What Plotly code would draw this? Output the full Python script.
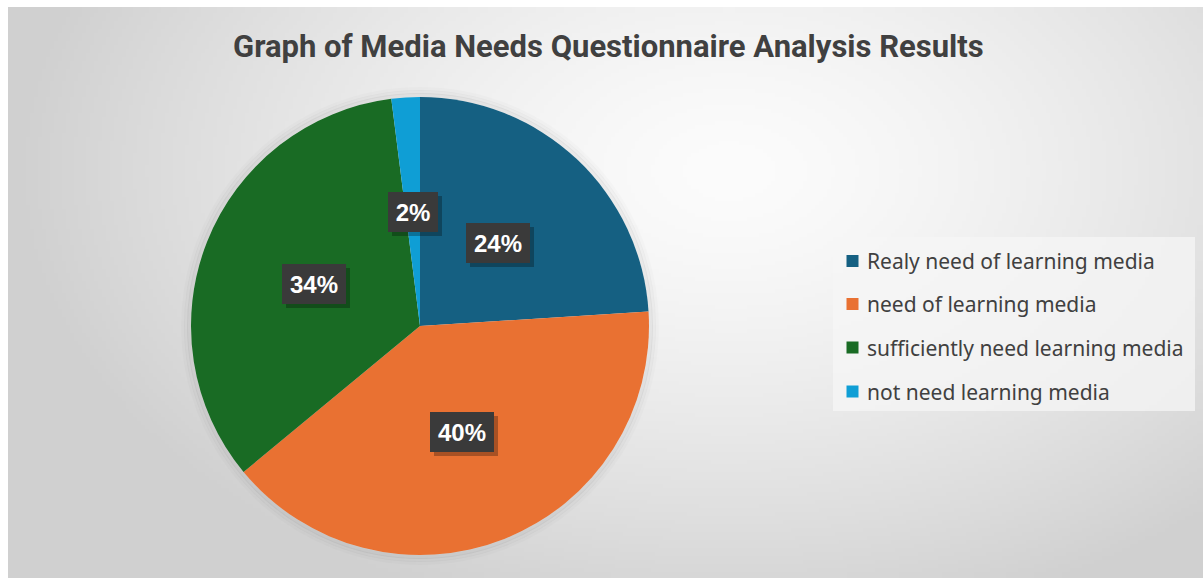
import base64, struct, zlib, math
import numpy as np
import plotly.graph_objects as go

# ---- data ----
categories = ["Realy need of learning media", "need of learning media",
              "sufficiently need learning media", "not need learning media"]
values = [24, 40, 34, 2]
colors = ["#156082", "#E97132", "#196B24", "#0F9ED5"]
title_text = "Graph of Media Needs Questionnaire Analysis Results"

W, H = 1203, 578

# ---- background gradient image (grayscale PNG) ----
def png_gray(arr):
    h, w = arr.shape
    raw = b"".join(b"\x00" + arr[i].astype(np.uint8).tobytes() for i in range(h))
    def chunk(t, d):
        c = struct.pack(">I", len(d)) + t + d
        return c + struct.pack(">I", zlib.crc32(t + d) & 0xffffffff)
    return (b"\x89PNG\r\n\x1a\n" + chunk(b"IHDR", struct.pack(">IIBBBBB", w, h, 8, 0, 0, 0, 0))
            + chunk(b"IDAT", zlib.compress(raw, 9)) + chunk(b"IEND", b""))

gw, gh = 300, 143
xs = np.linspace(8, W, gw)
ys = np.linspace(7, H, gh)
X, Y = np.meshgrid(xs, ys)
d = np.sqrt(((X - 730) / 720) ** 2 + ((Y - 170) / 470) ** 2)
d = np.clip(d, 0, 1)
g = 252 - (252 - 208) * d ** 1.4
img_uri = "data:image/png;base64," + base64.b64encode(png_gray(g)).decode()

# ---- pie geometry (pixels) ----
cx, cy, R = 420, 326, 229

fig = go.Figure()
fig.add_trace(go.Pie(
    labels=categories, values=values, sort=False, direction="clockwise", rotation=0,
    marker=dict(colors=colors, line=dict(width=0)),
    textinfo="none", hoverinfo="label+percent", showlegend=False,
    domain=dict(x=[(cx - R) / W, (cx + R) / W], y=[1 - (cy + R) / H, 1 - (cy - R) / H]),
))

shapes = []
# soft shadow around pie
for k, a in [(2, 0.05), (5, 0.03), (8, 0.015)]:
    r = R + k
    shapes.append(dict(type="circle", xref="paper", yref="paper", layer="below",
                       x0=(cx - r) / W, x1=(cx + r) / W, y0=1 - (cy + r) / H, y1=1 - (cy - r) / H,
                       line=dict(color=f"rgba(0,0,0,{a})", width=4)))

annotations = []
# title
annotations.append(dict(text=f"<b>{title_text}</b>", x=608 / W, y=1 - 46 / H, xref="paper", yref="paper",
                        xanchor="center", yanchor="middle", showarrow=False,
                        font=dict(family="Roboto", size=31, color="#404040")))

# data labels
total = sum(values)
cum = 0
for v in values:
    mid = (cum + v / 2) / total * 2 * math.pi
    cum += v
    lx = cx + 0.5 * R * math.sin(mid)
    ly = cy - 0.5 * R * math.cos(mid)
    label = f"{round(v / total * 100)}%"
    bw = 40 if len(label) <= 2 else 54
    common = dict(x=lx / W, y=1 - ly / H, xref="paper", yref="paper", showarrow=False,
                  xanchor="center", yanchor="middle", width=bw, height=30, borderpad=5, borderwidth=0)
    # shadow box (no text)
    annotations.append(dict(text=" ", bgcolor="rgba(0,0,0,0.28)", xshift=4, yshift=-4,
                            font=dict(size=10), **common))
    annotations.append(dict(text=f"<b>{label}</b>", bgcolor="#3a3a3a",
                            font=dict(family="Liberation Sans", size=24, color="white"), **common))

# custom legend
lx0, lx1, ly0, ly1 = 833, 1195, 237, 411
shapes.append(dict(type="rect", xref="paper", yref="paper", layer="below",
                   x0=lx0 / W, x1=lx1 / W, y0=1 - ly1 / H, y1=1 - ly0 / H,
                   fillcolor="rgba(245,245,245,0.75)", line=dict(width=0)))
row_y = [261, 304, 347.5, 391.5]
for cat, col, yy in zip(categories, colors, row_y):
    shapes.append(dict(type="rect", xref="paper", yref="paper",
                       x0=846.5 / W, x1=858.5 / W, y0=1 - (yy + 6) / H, y1=1 - (yy - 6) / H,
                       fillcolor=col, line=dict(width=0)))
    annotations.append(dict(text=cat, x=865 / W, y=1 - yy / H, xref="paper", yref="paper",
                            xanchor="left", yanchor="middle", showarrow=False,
                            font=dict(family="Noto Sans", size=21, color="#404040")))

fig.update_layout(
    width=W, height=H, margin=dict(l=0, r=0, t=0, b=0),
    paper_bgcolor="white", plot_bgcolor="white",
    images=[dict(source=img_uri, xref="paper", yref="paper", x=8 / W, y=1 - 7 / H,
                 sizex=(W - 8) / W, sizey=(H - 7) / H, xanchor="left", yanchor="top",
                 sizing="stretch", layer="below")],
    shapes=shapes, annotations=annotations, showlegend=False,
)
fig.write_html("out.html")
